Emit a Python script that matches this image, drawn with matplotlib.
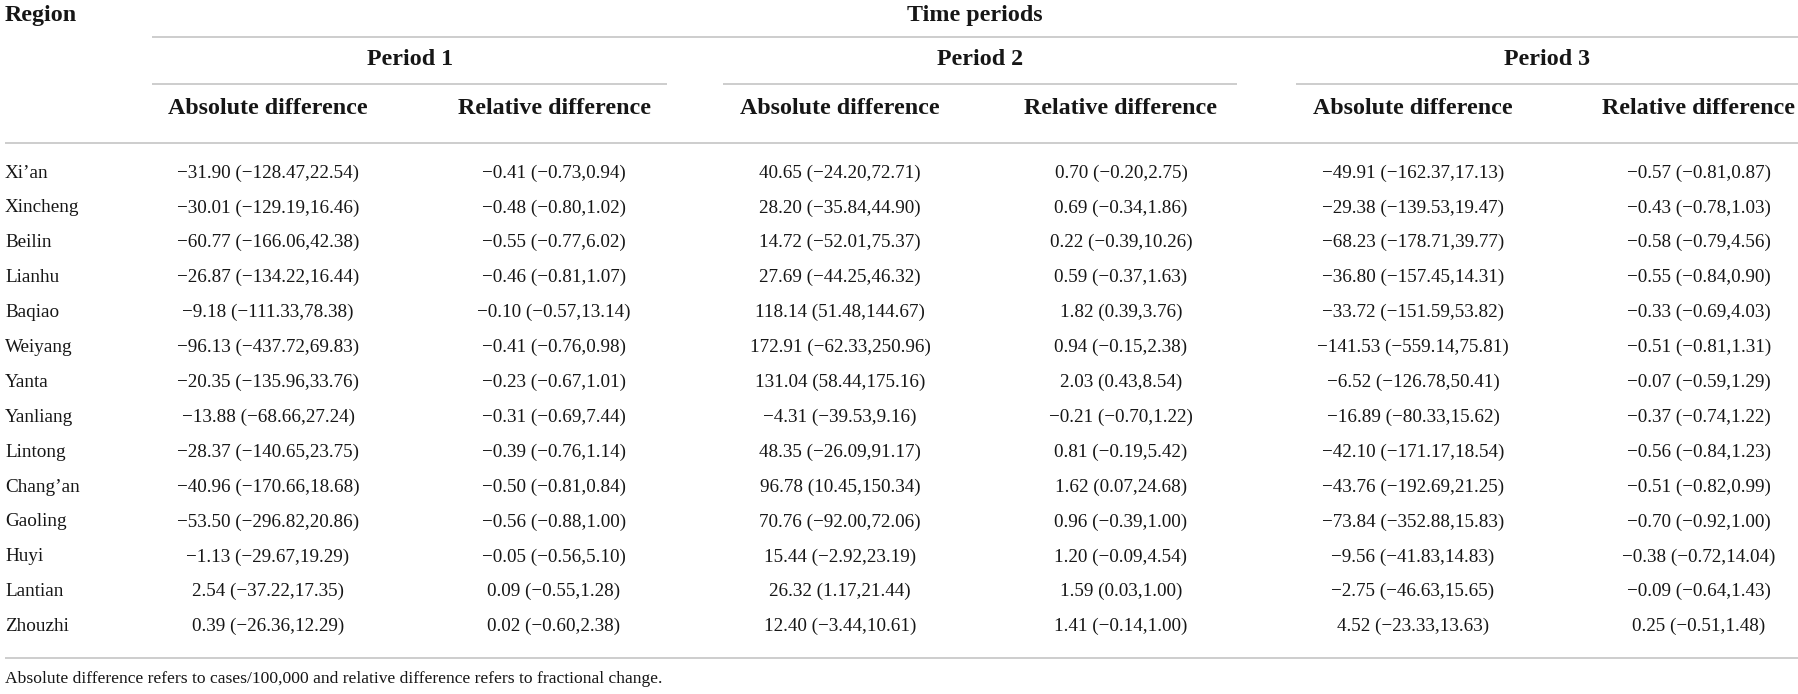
import matplotlib
matplotlib.use("Agg")
import matplotlib.pyplot as plt

regions = ["Xi\u2019an", "Xincheng", "Beilin", "Lianhu", "Baqiao", "Weiyang", "Yanta",
           "Yanliang", "Lintong", "Chang\u2019an", "Gaoling", "Huyi", "Lantian", "Zhouzhi"]

p1_abs = [(-31.90, -128.47, 22.54), (-30.01, -129.19, 16.46), (-60.77, -166.06, 42.38),
          (-26.87, -134.22, 16.44), (-9.18, -111.33, 78.38), (-96.13, -437.72, 69.83),
          (-20.35, -135.96, 33.76), (-13.88, -68.66, 27.24), (-28.37, -140.65, 23.75),
          (-40.96, -170.66, 18.68), (-53.50, -296.82, 20.86), (-1.13, -29.67, 19.29),
          (2.54, -37.22, 17.35), (0.39, -26.36, 12.29)]
p1_rel = [(-0.41, -0.73, 0.94), (-0.48, -0.80, 1.02), (-0.55, -0.77, 6.02),
          (-0.46, -0.81, 1.07), (-0.10, -0.57, 13.14), (-0.41, -0.76, 0.98),
          (-0.23, -0.67, 1.01), (-0.31, -0.69, 7.44), (-0.39, -0.76, 1.14),
          (-0.50, -0.81, 0.84), (-0.56, -0.88, 1.00), (-0.05, -0.56, 5.10),
          (0.09, -0.55, 1.28), (0.02, -0.60, 2.38)]
p2_abs = [(40.65, -24.20, 72.71), (28.20, -35.84, 44.90), (14.72, -52.01, 75.37),
          (27.69, -44.25, 46.32), (118.14, 51.48, 144.67), (172.91, -62.33, 250.96),
          (131.04, 58.44, 175.16), (-4.31, -39.53, 9.16), (48.35, -26.09, 91.17),
          (96.78, 10.45, 150.34), (70.76, -92.00, 72.06), (15.44, -2.92, 23.19),
          (26.32, 1.17, 21.44), (12.40, -3.44, 10.61)]
p2_rel = [(0.70, -0.20, 2.75), (0.69, -0.34, 1.86), (0.22, -0.39, 10.26),
          (0.59, -0.37, 1.63), (1.82, 0.39, 3.76), (0.94, -0.15, 2.38),
          (2.03, 0.43, 8.54), (-0.21, -0.70, 1.22), (0.81, -0.19, 5.42),
          (1.62, 0.07, 24.68), (0.96, -0.39, 1.00), (1.20, -0.09, 4.54),
          (1.59, 0.03, 1.00), (1.41, -0.14, 1.00)]
p3_abs = [(-49.91, -162.37, 17.13), (-29.38, -139.53, 19.47), (-68.23, -178.71, 39.77),
          (-36.80, -157.45, 14.31), (-33.72, -151.59, 53.82), (-141.53, -559.14, 75.81),
          (-6.52, -126.78, 50.41), (-16.89, -80.33, 15.62), (-42.10, -171.17, 18.54),
          (-43.76, -192.69, 21.25), (-73.84, -352.88, 15.83), (-9.56, -41.83, 14.83),
          (-2.75, -46.63, 15.65), (4.52, -23.33, 13.63)]
p3_rel = [(-0.57, -0.81, 0.87), (-0.43, -0.78, 1.03), (-0.58, -0.79, 4.56),
          (-0.55, -0.84, 0.90), (-0.33, -0.69, 4.03), (-0.51, -0.81, 1.31),
          (-0.07, -0.59, 1.29), (-0.37, -0.74, 1.22), (-0.56, -0.84, 1.23),
          (-0.51, -0.82, 0.99), (-0.70, -0.92, 1.00), (-0.38, -0.72, 14.04),
          (-0.09, -0.64, 1.43), (0.25, -0.51, 1.48)]

period_labels = ["Period 1", "Period 2", "Period 3"]
sub_labels = ["Absolute difference", "Relative difference"]
header_region = "Region"
header_top = "Time periods"
footnote = ("Absolute difference refers to cases/100,000 and relative difference "
            "refers to fractional change.")

columns = [p1_abs, p1_rel, p2_abs, p2_rel, p3_abs, p3_rel]

# layout (pixel coordinates)
W, H = 1798, 694
col_x = [268, 554, 840, 1121, 1413, 1699]
period_x = [410, 980, 1547]
period_spans = [(152, 667), (723, 1237), (1296, 1798)]
row_y0, row_dy = 173, 34.9

FONT = "Liberation Serif"
TXT = "#161616"
LINE = "#c9c9c9"


def fmt(v):
    s = f"{v:.2f}"
    return s.replace("-", "\u2212")


def cell(t):
    return f"{fmt(t[0])} ({fmt(t[1])},{fmt(t[2])})"


fig = plt.figure(figsize=(W / 100, H / 100), dpi=100)
ax = fig.add_axes([0, 0, 1, 1])
ax.set_xlim(0, W)
ax.set_ylim(H, 0)
ax.axis("off")

hkw = dict(family=FONT, fontsize=17.3, fontweight="bold", color=TXT)
dkw = dict(family=FONT, fontsize=13.8, color=TXT)

ax.text(5, 15, header_region, ha="left", va="center", **hkw)
ax.text((152 + W) / 2, 15, header_top, ha="center", va="center", **hkw)
ax.hlines(37, 152, W, color=LINE, lw=1.3)

for px, lab, (a, b) in zip(period_x, period_labels, period_spans):
    ax.text(px, 59, lab, ha="center", va="center", **hkw)
    ax.hlines(84, a, b, color=LINE, lw=1.3)

for i, cx in enumerate(col_x):
    ax.text(cx, 108, sub_labels[i % 2], ha="center", va="center", **hkw)

ax.hlines(143, 5, W, color=LINE, lw=1.3)

for r, name in enumerate(regions):
    y = row_y0 + r * row_dy
    ax.text(5, y, name, ha="left", va="center", **dkw)
    for cx, col in zip(col_x, columns):
        ax.text(cx, y, cell(col[r]), ha="center", va="center", **dkw)

ax.hlines(658, 5, W, color=LINE, lw=1.3)
ax.text(5, 679, footnote, ha="left", va="center", family=FONT, fontsize=12.6, color=TXT)

fig.savefig("out.png", dpi=100)
